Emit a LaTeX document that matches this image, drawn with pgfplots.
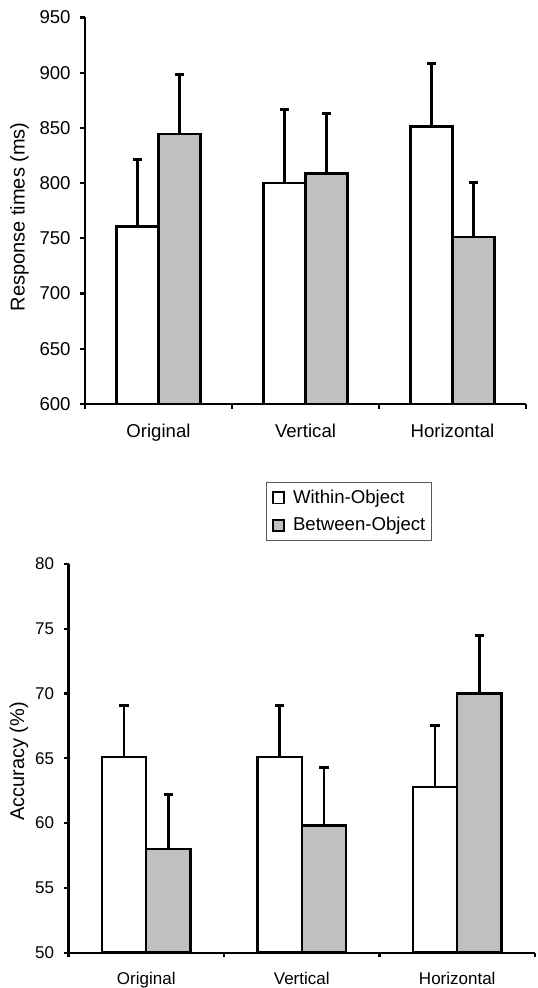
\documentclass[border=0pt]{standalone}
\usepackage{fontspec}
\setmainfont{Liberation Sans}
\usepackage{pgfplots}
\pgfplotsset{compat=1.18}
\definecolor{barg}{RGB}{192,192,192}
\pgfplotsset{
  mybars/.style={
    scale only axis,
    ybar, bar width=0.285,
    xmin=-0.5, xmax=2.5,
    axis x line=bottom, axis y line=left,
    axis line style={-, line width=1.1pt},
    xtick={-0.5,0.5,1.5,2.5}, xticklabels={},
    extra x ticks={0,1,2},
    extra x tick labels={Original,Vertical,Horizontal},
    extra x tick style={major tick length=0pt, xticklabel style={yshift=-6.5pt}},
    tick align=outside, major tick length=2.4pt,
    tick style={line width=1.1pt, black},
    yticklabel style={xshift=-1.3pt},
    /pgf/number format/assume math mode=true,
    error bars/error bar style={line width=1.2pt, black},
    error bars/error mark=|,
    error bars/error mark options={line width=1.5pt, mark size=2.4pt, black},
  }
}
\begin{document}
\begin{tikzpicture}
\useasboundingbox (0,0) rectangle (268.5pt,-494pt);
% ---- top panel ----
\begin{axis}[mybars,
  at={(42.5pt,-201.9pt)}, anchor=south west,
  width=220.5pt, height=193.15pt,
  ymin=600, ymax=950, ytick={600,650,...,950},
  tick label style={font=\fontsize{9.3}{11}\selectfont},
  ylabel={Response times (ms)},
  ylabel style={font=\fontsize{9}{11}\selectfont},
  every axis y label/.style={at={(axis description cs:-0.1485,0.484)}, rotate=90, anchor=center},
]
\addplot[bar shift=-0.1425, fill=white, draw=black, line width=1.2pt,
  error bars/.cd, y dir=plus, y explicit]
  coordinates {(0,760.7) +- (0,60.3) (1,800.2) +- (0,66.0) (2,851.1) +- (0,57.3)};
\addplot[bar shift=0.1425, fill=barg, draw=black, line width=1.2pt,
  error bars/.cd, y dir=plus, y explicit]
  coordinates {(0,844.5) +- (0,54.0) (1,808.6) +- (0,54.0) (2,751.3) +- (0,48.9)};
\end{axis}
% ---- bottom panel ----
\begin{axis}[mybars,
  at={(34.25pt,-476.3pt)}, anchor=south west,
  width=233.25pt, height=194.4pt,
  ymin=50, ymax=80, ytick={50,55,...,80},
  tick label style={font=\fontsize{8.5}{10}\selectfont},
  ylabel={Accuracy (\%)},
  ylabel style={font=\fontsize{9}{11}\selectfont},
  every axis y label/.style={at={(axis description cs:-0.1063,0.4915)}, rotate=90, anchor=center},
  legend cell align=left,
  legend image code/.code={\path (0pt,0pt) (9pt,0pt);\draw[#1, line width=0.9pt, draw=black] (1.4pt,-2.8pt) rectangle (7pt,2.8pt);},
  legend style={at={(0.4234,1.2104)}, anchor=north west, draw=black!65, line width=0.6pt,
    font=\fontsize{9.3}{11}\selectfont, inner xsep=1pt, inner ysep=1.5pt, row sep=1.5pt},
]
\addplot[bar shift=-0.1425, fill=white, draw=black, line width=1.2pt,
  error bars/.cd, y dir=plus, y explicit]
  coordinates {(0,65.1) +- (0,4.0) (1,65.1) +- (0,4.0) (2,62.8) +- (0,4.7)};
\addlegendentry{Within-Object}
\addplot[bar shift=0.1425, fill=barg, draw=black, line width=1.2pt,
  error bars/.cd, y dir=plus, y explicit]
  coordinates {(0,58.0) +- (0,4.2) (1,59.8) +- (0,4.5) (2,70.0) +- (0,4.5)};
\addlegendentry{Between-Object}
\end{axis}
\end{tikzpicture}
\end{document}
